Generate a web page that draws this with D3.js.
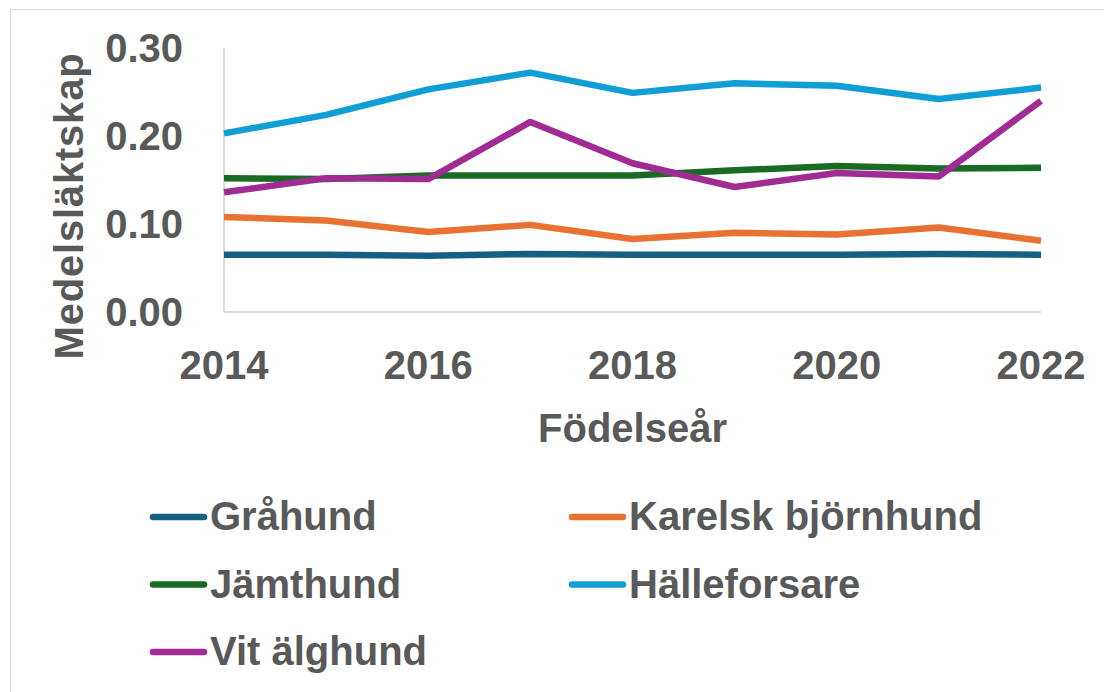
<!DOCTYPE html>
<html>
<head>
<meta charset="utf-8">
<script src="https://cdn.jsdelivr.net/npm/d3@7"></script>
<style>
  body { margin: 0; background: #fff; }
  svg { display: block; }
  text { font-family: "Liberation Sans", Arial, sans-serif; font-weight: bold; fill: #595959; }
</style>
</head>
<body>
<svg width="1104" height="692"></svg>
<script>
const svg = d3.select("svg");

// data
const years = [2014, 2015, 2016, 2017, 2018, 2019, 2020, 2021, 2022];
const yearTicks = [2014, 2016, 2018, 2020, 2022];
const valueTicks = [0, 0.1, 0.2, 0.3];

const grahund      = [0.065, 0.065, 0.064, 0.066, 0.065, 0.065, 0.065, 0.066, 0.065];
const karelsk      = [0.108, 0.104, 0.091, 0.099, 0.083, 0.090, 0.088, 0.096, 0.081];
const jamthund     = [0.152, 0.151, 0.155, 0.155, 0.155, 0.161, 0.166, 0.163, 0.164];
const halleforsare = [0.203, 0.224, 0.253, 0.272, 0.249, 0.260, 0.257, 0.242, 0.255];
const vitAlghund   = [0.136, 0.152, 0.151, 0.216, 0.169, 0.142, 0.158, 0.154, 0.240];

const series = [
  {name: "Gråhund", values: grahund, color: "#156082"},
  {name: "Karelsk björnhund", values: karelsk, color: "#e97132"},
  {name: "Jämthund", values: jamthund, color: "#196b24"},
  {name: "Hälleforsare", values: halleforsare, color: "#0f9ed5"},
  {name: "Vit älghund", values: vitAlghund, color: "#a02b93"}
];

// frame border (right/bottom edges fall outside the picture)
svg.append("rect")
  .attr("x", 10.5).attr("y", 9.5)
  .attr("width", 1200).attr("height", 800)
  .attr("fill", "none")
  .attr("stroke", "#d9d9d9")
  .attr("stroke-width", 1);

const x = d3.scaleLinear().domain([2014, 2022]).range([224, 1041]);
const y = d3.scaleLinear().domain([0, 0.3]).range([312, 48]);

// axis lines
svg.append("line")
  .attr("x1", x(2014)).attr("x2", x(2014))
  .attr("y1", y(0.3)).attr("y2", y(0))
  .attr("stroke", "#d0d0d0").attr("stroke-width", 1.5);
svg.append("line")
  .attr("x1", x(2014)).attr("x2", x(2022))
  .attr("y1", y(0)).attr("y2", y(0))
  .attr("stroke", "#d0d0d0").attr("stroke-width", 1.5);

// y tick labels
svg.append("g").selectAll("text")
  .data(valueTicks)
  .join("text")
    .attr("x", 183)
    .attr("y", d => y(d))
    .attr("dy", "0.36em")
    .attr("text-anchor", "end")
    .attr("font-size", 40)
    .text(d => d3.format(".2f")(d));

// x tick labels
svg.append("g").selectAll("text")
  .data(yearTicks)
  .join("text")
    .attr("x", d => x(d))
    .attr("y", 379)
    .attr("text-anchor", "middle")
    .attr("font-size", 40)
    .text(d => d);

// axis titles
svg.append("text")
  .attr("x", (x(2014) + x(2022)) / 2)
  .attr("y", 442)
  .attr("text-anchor", "middle")
  .attr("font-size", 40)
  .text("Födelseår");

svg.append("text")
  .attr("transform", "translate(83,206) rotate(-90)")
  .attr("text-anchor", "middle")
  .attr("font-size", 40)
  .attr("letter-spacing", 0.8)
  .text("Medelsläktskap");

// lines
const line = d3.line()
  .x((d, i) => x(years[i]))
  .y(d => y(d));

svg.append("g").selectAll("path")
  .data(series)
  .join("path")
    .attr("d", d => line(d.values))
    .attr("fill", "none")
    .attr("stroke", d => d.color)
    .attr("stroke-width", 6.5)
    .attr("stroke-linejoin", "round");

// legend
const legend = svg.append("g").selectAll("g")
  .data(series)
  .join("g")
    .attr("transform", (d, i) => "translate(" + (i % 2 === 0 ? 150 : 569) + "," + (517 + Math.floor(i / 2) * 67.5) + ")");

legend.append("line")
  .attr("x1", 3).attr("x2", 54)
  .attr("y1", 0).attr("y2", 0)
  .attr("stroke", d => d.color)
  .attr("stroke-width", 6.5)
  .attr("stroke-linecap", "round");

legend.append("text")
  .attr("x", 60)
  .attr("y", 13)
  .attr("font-size", 40)
  .text(d => d.name);
</script>
</body>
</html>
